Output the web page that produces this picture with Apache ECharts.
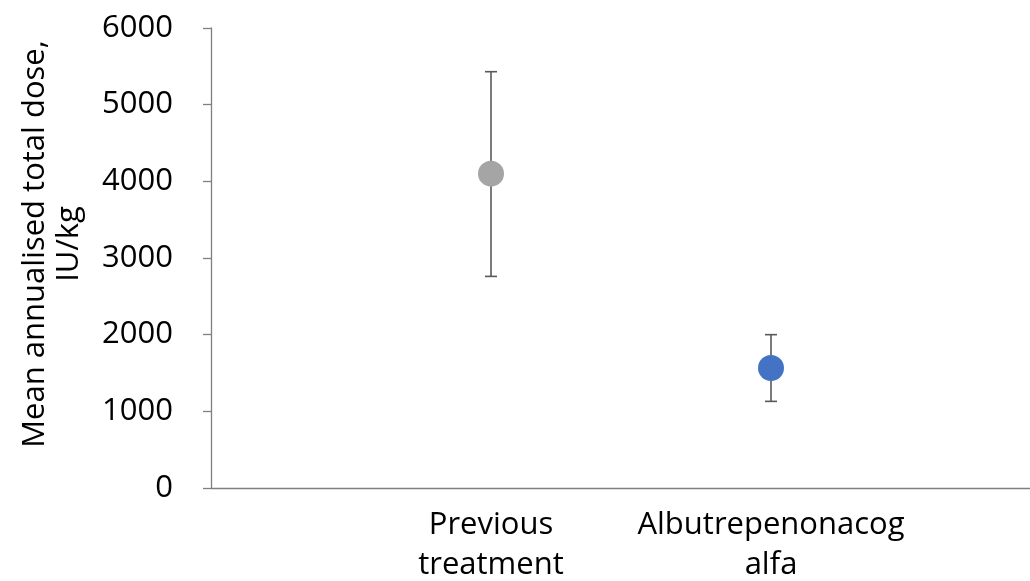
<!DOCTYPE html>
<html>
<head>
<meta charset="utf-8">
<script src="https://cdn.jsdelivr.net/npm/echarts@6/dist/echarts.min.js"></script>
<style>
  html, body { margin: 0; padding: 0; background: #fff; }
  #chart { width: 1030px; height: 581px; }
</style>
</head>
<body>
<div id="chart"></div>
<script>
// Treatment groups and their x positions on the value axis
const groups = ['Previous\ntreatment', 'Albutrepenonacog\nalfa'];
const groupX = [1, 2];
// Mean annualised total dose (IU/kg) with error bar ends
const means = [4100, 1565];
const lower = [2760, 1130];
const upper = [5430, 2000];
const colors = ['#A5A5A5', '#4472C4'];
const yTicks = [0, 1000, 2000, 3000, 4000, 5000, 6000];

const font = '"Open Sans", "Liberation Sans", sans-serif';
const chart = echarts.init(document.getElementById('chart'), null, { renderer: 'canvas' });

const points = groupX.map((x, i) => ({
  value: [x, means[i]],
  itemStyle: { color: colors[i], opacity: 1 }
}));
const bars = groupX.map((x, i) => [x, lower[i], upper[i]]);

chart.setOption({
  animation: false,
  grid: { left: 211, right: 0, top: 28, bottom: 93, containLabel: false, outerBoundsMode: 'none' },
  xAxis: {
    type: 'value',
    min: 0,
    max: 2.925,
    interval: 1,
    splitLine: { show: false },
    axisTick: { show: false },
    axisLine: { lineStyle: { color: '#7F7F7F', width: 1.3 } },
    axisLabel: {
      showMaxLabel: false,
      margin: 17,
      color: '#000',
      fontFamily: font,
      fontSize: 31,
      lineHeight: 40,
      formatter: v => {
        const idx = groupX.indexOf(v);
        return idx >= 0 ? groups[idx] : '';
      }
    }
  },
  yAxis: {
    type: 'value',
    min: yTicks[0],
    max: yTicks[yTicks.length - 1],
    interval: 1000,
    splitLine: { show: false },
    axisLine: { show: true, lineStyle: { color: '#7F7F7F', width: 1.3 } },
    axisTick: { show: true, inside: false, length: 8, lineStyle: { color: '#7F7F7F', width: 1.3 } },
    axisLabel: { margin: 38, color: '#000', fontFamily: font, fontSize: 31, formatter: v => String(v) },
    name: 'Mean annualised total dose,\nIU/kg',
    nameLocation: 'middle',
    nameGap: 125,
    nameRotate: 90,
    nameTextStyle: { color: '#000', fontFamily: font, fontSize: 31, lineHeight: 34, padding: [0, 0, 0, 28] }
  },
  series: [
    {
      type: 'custom',
      data: bars,
      z: 1,
      renderItem: (params, api) => {
        const x = api.value(0);
        const lo = api.coord([x, api.value(1)]);
        const hi = api.coord([x, api.value(2)]);
        const cap = 6;
        const style = { stroke: '#595959', lineWidth: 1.6 };
        return {
          type: 'group',
          children: [
            { type: 'line', shape: { x1: lo[0], y1: lo[1], x2: hi[0], y2: hi[1] }, style },
            { type: 'line', shape: { x1: hi[0] - cap, y1: hi[1], x2: hi[0] + cap, y2: hi[1] }, style },
            { type: 'line', shape: { x1: lo[0] - cap, y1: lo[1], x2: lo[0] + cap, y2: lo[1] }, style }
          ]
        };
      }
    },
    {
      type: 'scatter',
      data: points,
      symbol: 'circle',
      symbolSize: 26,
      z: 2
    }
  ]
});
</script>
</body>
</html>
